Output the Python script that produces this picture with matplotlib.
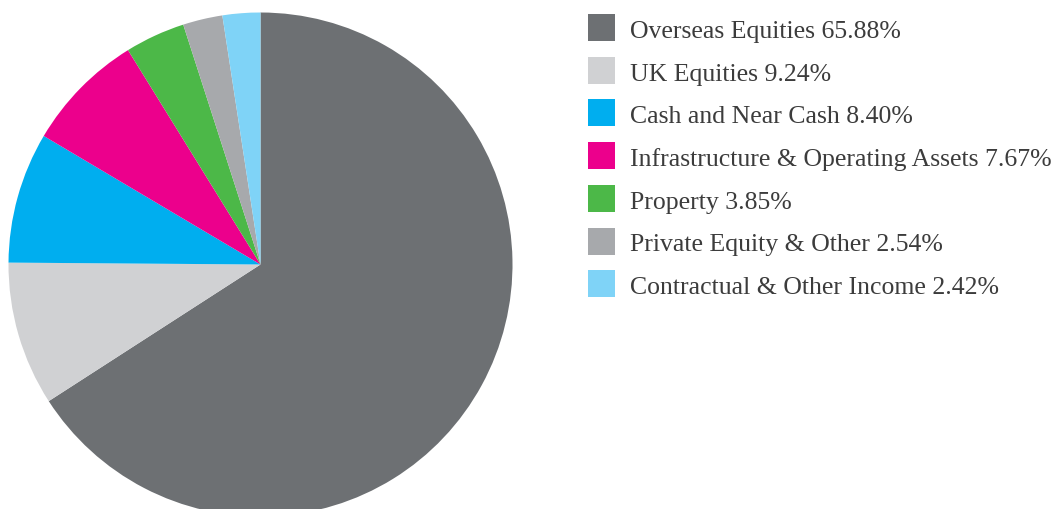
import matplotlib
matplotlib.use("Agg")
import matplotlib.pyplot as plt
from matplotlib.patches import Rectangle

# asset allocation
labels = ["Overseas Equities", "UK Equities", "Cash and Near Cash",
          "Infrastructure & Operating Assets", "Property",
          "Private Equity & Other", "Contractual & Other Income"]
shares = [65.88, 9.24, 8.40, 7.67, 3.85, 2.54, 2.42]
colors = ["#6d7073", "#d0d1d3", "#00aeef", "#ec008c", "#4cb848", "#a7a9ac", "#7fd3f7"]

W, H = 1055, 510
fig = plt.figure(figsize=(W / 100, H / 100), dpi=100)

# pie, centre (260.5, 265.5) px from top, radius 252 px
cx, cy, r = 260.5, 265.5, 252
ax = fig.add_axes([(cx - r) / W, (H - cy - r) / H, 2 * r / W, 2 * r / H])
wedges, _ = ax.pie(shares, colors=colors, startangle=90, counterclock=False,
                   radius=1, wedgeprops=dict(linewidth=0))
for w in wedges:
    w.set_clip_on(False)
ax.set_xlim(-1, 1)
ax.set_ylim(-1, 1)
ax.set_aspect("equal")
ax.axis("off")

# legend drawn by hand
for i, (lab, val, col) in enumerate(zip(labels, shares, colors)):
    top = 15 + i * 42.7
    fig.patches.append(Rectangle((588 / W, 1 - (top + 27) / H), 27 / W, 27 / H,
                                 transform=fig.transFigure, facecolor=col,
                                 edgecolor="none"))
    fig.text(630 / W, 1 - (top + 23) / H, f"{lab} {val:.2f}%",
             fontsize=18.5, family="Liberation Serif", color="#3c3c3c",
             va="baseline", ha="left")

fig.savefig("out.png", dpi=100)
